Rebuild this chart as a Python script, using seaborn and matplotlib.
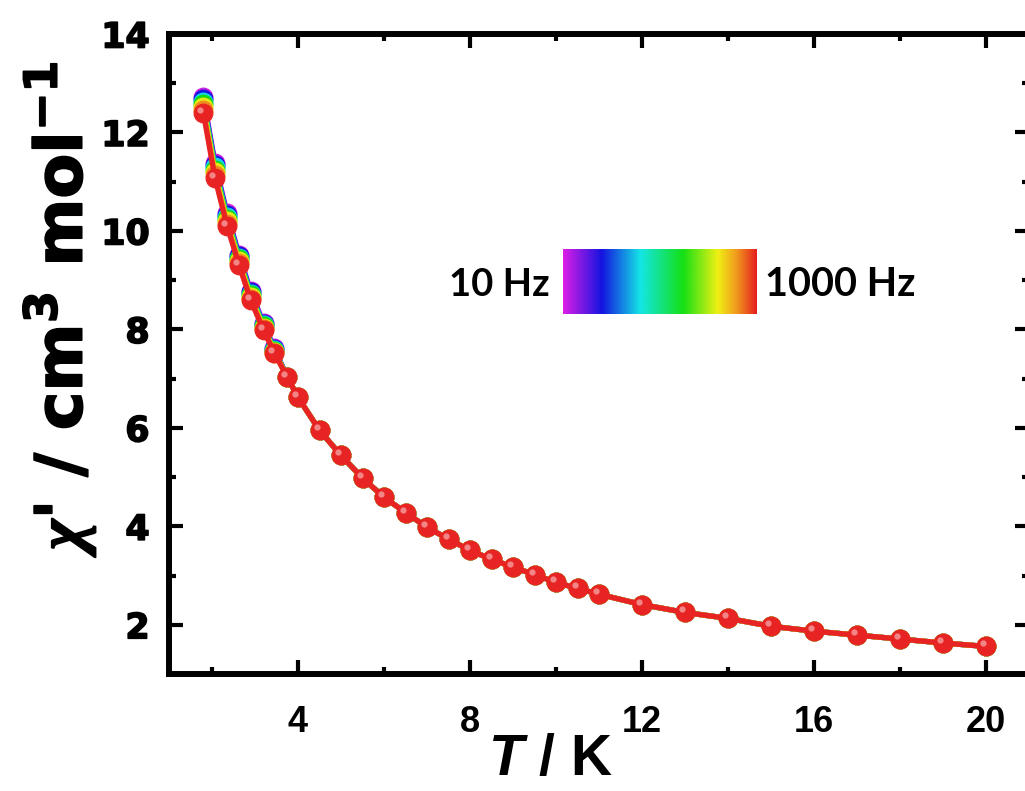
import numpy as np
import pandas as pd
import matplotlib
matplotlib.use("Agg")
import matplotlib.pyplot as plt
from matplotlib.colors import LinearSegmentedColormap
from matplotlib.ticker import MultipleLocator
import matplotlib.transforms as mtransforms
import matplotlib.patheffects as pe
import seaborn as sns

# ---------------- data ----------------
T_low = [1.8, 2.07, 2.35, 2.63, 2.9, 3.2, 3.45]
T_high = [3.75, 4.0, 4.5, 5.0, 5.5, 6.0, 6.5, 7.0, 7.5, 8.0, 8.5, 9.0, 9.5,
          10.0, 10.5, 11.0, 12, 13, 14, 15, 16, 17, 18, 19, 20]

freqs = ["10 Hz", "50 Hz", "100 Hz", "200 Hz", "400 Hz", "700 Hz", "1000 Hz"]
chi_low_10 = [12.72, 11.38, 10.36, 9.52, 8.78, 8.12, 7.62]
chi_low_50 = [12.68, 11.34, 10.33, 9.49, 8.75, 8.10, 7.60]
chi_low_100 = [12.62, 11.29, 10.29, 9.45, 8.72, 8.08, 7.58]
chi_low_200 = [12.57, 11.24, 10.25, 9.42, 8.69, 8.06, 7.57]
chi_low_400 = [12.52, 11.19, 10.20, 9.38, 8.66, 8.03, 7.55]
chi_low_700 = [12.45, 11.13, 10.15, 9.34, 8.62, 8.00, 7.53]
chi_low_1000 = [12.39, 11.07, 10.10, 9.30, 8.59, 7.98, 7.52]
chi_high = [7.03, 6.62, 5.95, 5.44, 4.98, 4.59, 4.28, 3.98, 3.74, 3.51, 3.33,
            3.17, 3.02, 2.86, 2.74, 2.62, 2.41, 2.25, 2.13, 1.97, 1.87, 1.79,
            1.71, 1.63, 1.56]
chi_low = [chi_low_10, chi_low_50, chi_low_100, chi_low_200, chi_low_400,
           chi_low_700, chi_low_1000]

colors = ["#c81ee0", "#1414e0", "#14d8e8", "#14d814", "#e8e814", "#f08c1e", "#e82323"]

x_ticks_major = 4
y_ticks_major = 2

rows = []
for f, low in zip(freqs, chi_low):
    for t, c in zip(T_low + T_high, low + chi_high):
        rows.append({"T": t, "chi": c, "freq": f})
df = pd.DataFrame(rows)

# ---------------- style ----------------
sns.set_theme(style="white")
plt.rcParams['font.family'] = ['Liberation Sans', 'DejaVu Sans']
plt.rcParams['text.color'] = 'black'
plt.rcParams['axes.labelcolor'] = 'black'
plt.rcParams['xtick.color'] = 'black'
plt.rcParams['ytick.color'] = 'black'
plt.rcParams['mathtext.fontset'] = 'custom'
plt.rcParams['mathtext.rm'] = 'DejaVu Sans:bold'
plt.rcParams['mathtext.bf'] = 'DejaVu Sans:bold'
plt.rcParams['mathtext.it'] = 'Liberation Serif:italic:bold'
plt.rcParams['mathtext.sf'] = 'Liberation Sans:italic:bold'
plt.rcParams['mathtext.default'] = 'rm'

fig = plt.figure(figsize=(10.25, 7.91), dpi=100)
ax = fig.add_axes([0.1649, 0.1479, 0.839, 0.8091])

sns.lineplot(data=df, x="T", y="chi", hue="freq", hue_order=freqs,
             palette=colors, marker="o", markersize=13.5, linewidth=3.8,
             markeredgewidth=0.8, sort=False,
             estimator=None, legend=False, ax=ax)
for line, col in zip(ax.lines, colors):
    line.set_markeredgecolor(col)

# glossy highlight on the top (1000 Hz) spheres
red_df = df[df["freq"] == freqs[-1]]
hl_off = mtransforms.ScaledTranslation(-3 / 100, 3 / 100, fig.dpi_scale_trans)
ax.plot(red_df["T"], red_df["chi"], linestyle="none", marker="o",
        markersize=4.5, color="#f6a8a8", markeredgewidth=0, alpha=0.75,
        transform=ax.transData + hl_off)

ax.set_xlim(1, 21)
ax.set_ylim(1, 14)
ax.xaxis.set_major_locator(MultipleLocator(x_ticks_major))
ax.xaxis.set_minor_locator(MultipleLocator(2))
ax.yaxis.set_major_locator(MultipleLocator(y_ticks_major))
ax.yaxis.set_minor_locator(MultipleLocator(1))
ax.set_yticks([2, 4, 6, 8, 10, 12, 14])

for s in ax.spines.values():
    s.set_linewidth(4.3)
    s.set_color("black")
    s.set_visible(True)

ax.tick_params(which="both", direction="in", top=True, right=True,
               bottom=True, left=True, color="black", width=3,
               labelcolor="black")
ax.tick_params(which="major", length=10)
ax.tick_params(which="minor", length=5)
ax.tick_params(axis="y", which="major", pad=14, labelsize=25)
ax.tick_params(axis="x", which="major", pad=22, labelsize=26)

heavy = [pe.withStroke(linewidth=1.2, foreground="black")]
for lab in ax.get_yticklabels():
    lab.set_fontweight("bold")
    lab.set_family(["DejaVu Sans"])
    lab.set_path_effects(heavy)
for lab in ax.get_xticklabels():
    lab.set_fontweight("bold")
    lab.set_family(["Liberation Sans Narrow", "Liberation Sans", "DejaVu Sans"])

ax.set_xlabel("")
ax.set_ylabel("")

fig.text(0.5366, 0.039, r"$\mathsf{T}$ / K", fontsize=41, fontweight="bold",
         ha="center", va="center", color="black")
fig.text(0.058, 0.618, r"$\mathit{\chi}$' / cm$^{3}$ mol$^{-1}$", fontsize=47,
         fontweight="bold", family=["DejaVu Sans"], rotation=90,
         ha="center", va="center", color="black", path_effects=heavy)

# colour bar legend
cmap = LinearSegmentedColormap.from_list(
    "freqmap",
    [(0.0, "#dc1ee6"), (0.2, "#1414e0"), (0.4, "#14e6e6"), (0.62, "#14e014"),
     (0.8, "#f0f014"), (0.9, "#f0961e"), (1.0, "#e61e1e")])
cax = fig.add_axes([0.5493, 0.603, 0.1883, 0.0822])
cax.imshow(np.linspace(0, 1, 256)[None, :], aspect="auto", cmap=cmap)
cax.set_axis_off()
fig.text(0.5366, 0.6397, "10 Hz", fontsize=27.5, fontweight="bold",
         family=["Lato", "Liberation Sans"], ha="right", va="center",
         color="black")
fig.text(0.7463, 0.6397, "1000 Hz", fontsize=28.5, fontweight="bold",
         family=["Lato", "Liberation Sans"], ha="left", va="center",
         color="black")

fig.savefig("out.png", dpi=100)
